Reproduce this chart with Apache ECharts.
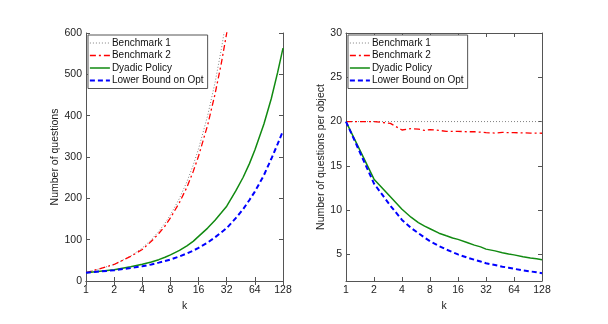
<!DOCTYPE html>
<html><head><meta charset="utf-8">
<script src="https://cdn.jsdelivr.net/npm/echarts@6/dist/echarts.min.js"></script>
<style>html,body{margin:0;padding:0;background:#fff}#c{width:608px;height:324px}</style>
</head><body><div id="c"></div>
<script>
// ---- data ----
const kValues = [1,2,3,4,5,6,7,8,10,12,14,16,20,24,28,32,40,48,56,64,80,96,112,128];
const seriesNames = ['Benchmark 1','Benchmark 2','Dyadic Policy','Lower Bound on Opt'];
// left panel: total number of questions
const bench1Total = [20,40,60,80,100,120,140,160,200,240,280,320,400,480,560,640,800,960,1120,1280,1600,1920,2240,2560];
const bench2Total = [20,40,59.4,76.2,96,114.9,133,152.8,190,226.8,264.6,302.4,377,452.4,526.4,600,748,901.4,1050,1200,1497.6,1795.2,2094.4,2391];
const dyadicTotal = [20,27,34.5,40.4,46,51.6,57.4,63.2,74,85.2,95.9,108,128,147,165,181,218,251,284,317,380,441.6,504,563.2];
const lowerTotal  = [20,26,31.5,35.6,40,44.4,48.3,52,59.5,66.6,73.5,80,93,105.6,117.6,128,152,173.8,196,216.3,256,295.7,331,363];
// right panel: questions per object
const bench1Per = [20,20,20,20,20,20,20,20,20,20,20,20,20,20,20,20,20,20,20,20,20,20,20,20];
const bench2Per = [20,20,19.8,19.05,19.2,19.15,19.0,19.1,19.0,18.9,18.9,18.9,18.85,18.85,18.8,18.75,18.7,18.78,18.75,18.75,18.72,18.7,18.7,18.68];
const dyadicPer = [20,13.5,11.5,10.1,9.2,8.6,8.2,7.9,7.4,7.1,6.85,6.7,6.35,6.05,5.85,5.6,5.4,5.2,5.05,4.95,4.75,4.6,4.5,4.4];
const lowerPer  = [20,13.0,10.5,8.9,8.0,7.4,6.9,6.5,5.95,5.55,5.25,5.0,4.65,4.4,4.2,4.0,3.8,3.62,3.5,3.38,3.2,3.08,2.98,2.88];
const xTicks = [1,2,4,8,16,32,64,128];
const leftYTicks = [0,100,200,300,400,500,600];
const rightYTicks = [5,10,15,20,25,30];

// ---- styles ----
const FONT = 'Liberation Sans';
const styles = [
  {color:'#808080', width:1, type:[1,2]},
  {color:'#ff0000', width:1.3, type:[6,3,2,3]},
  {color:'#118a11', width:1.5, type:'solid'},
  {color:'#0000ff', width:2, type:[5,3]}
];
const pair = (ys) => kValues.map((k,i)=>[k, ys[i]]);

const axisColor = '#555';
function xAx(grid, top){
  return {
    type:'log', logBase:2, min:1, max:128, gridIndex:grid, position: top?'top':'bottom',
    splitNumber:7,
    name: top?'':'k', nameLocation:'middle', nameGap:8,
    nameTextStyle:{fontFamily:FONT,fontSize:10.5,color:'#222'},
    axisLine:{show:true,lineStyle:{color:axisColor,width:1}},
    axisTick:{show:true,inside:true,length:4,lineStyle:{color:axisColor}},
    axisLabel:{show:!top,fontFamily:FONT,fontSize:10.5,color:'#222',margin:4},
    splitLine:{show:false}, minorTick:{show:false}
  };
}
function yAx(grid, right, opts){
  return Object.assign({
    type:'value', gridIndex:grid, position: right?'right':'left',
    nameLocation:'middle', nameRotate:90,
    nameTextStyle:{fontFamily:FONT,fontSize:10.5,color:'#222'},
    axisLine:{show:true,lineStyle:{color:axisColor,width:1}},
    axisTick:{show:true,inside:true,length:4,lineStyle:{color:axisColor}},
    axisLabel:{show:!right,fontFamily:FONT,fontSize:10.5,color:'#222',margin:4},
    splitLine:{show:false}
  }, opts);
}

const leftData = [bench1Total, bench2Total, dyadicTotal, lowerTotal];
const rightData = [bench1Per, bench2Per, dyadicPer, lowerPer];
const series = [];
[leftData, rightData].forEach((set, g) => {
  set.forEach((ys, i) => {
    series.push({
      name: seriesNames[i], type:'line', xAxisIndex: g*2, yAxisIndex: g*2,
      data: pair(ys), symbol:'none', smooth:false, clip:true, animation:false,
      lineStyle:{color:styles[i].color, width:styles[i].width, type:styles[i].type},
      itemStyle:{color:styles[i].color}, z: 2+i
    });
  });
});

function legend(left){
  return {
    orient:'vertical', left:left, top:35,
    data: seriesNames.map((n,i)=>({
      name:n,
      itemStyle:{opacity:0, borderWidth:0},
      lineStyle:{color:styles[i].color, width:Math.min(styles[i].width,1.8), type:styles[i].type}
    })),
    itemWidth:20, itemHeight:12, itemGap:0.5,
    padding:[2,4,2,1], borderColor:'#555', borderWidth:1, backgroundColor:'#fff',
    textStyle:{fontFamily:FONT, fontSize:10, lineHeight:12, color:'#111', padding:[0,0,0,-3]},
    selectedMode:false
  };
}

const chart = echarts.init(document.getElementById('c'), null, {renderer:'canvas'});
chart.setOption({
  backgroundColor:'#fff',
  animation:false,
  grid:[
    {left:86, top:33, width:197, height:248},
    {left:346, top:33, width:196, height:248}
  ],
  xAxis:[xAx(0,false), xAx(0,true), xAx(1,false), xAx(1,true)],
  yAxis:[
    yAx(0,false,{min:0,max:600,interval:100,name:'Number of questions',nameGap:21}),
    yAx(0,true,{min:0,max:600,interval:100}),
    yAx(1,false,{min:2,max:30,name:'Number of questions per object',nameGap:16,
      axisTick:{show:true,inside:true,length:4,lineStyle:{color:axisColor},customValues:rightYTicks},
      axisLabel:{show:true,fontFamily:FONT,fontSize:10.5,color:'#222',margin:4,customValues:rightYTicks}}),
    yAx(1,true,{min:2,max:30,
      axisTick:{show:true,inside:true,length:4,lineStyle:{color:axisColor},customValues:rightYTicks}})
  ],
  legend:[legend(88), legend(348)],
  series: series
});
</script></body></html>
